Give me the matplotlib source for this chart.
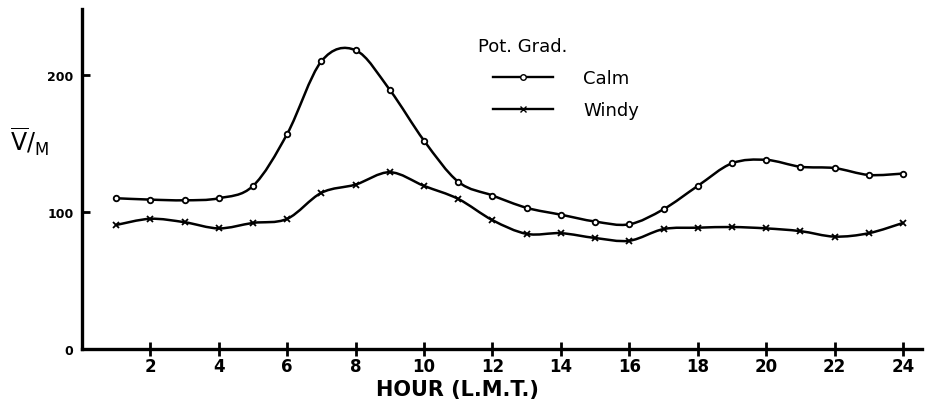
import numpy as np
import matplotlib.pyplot as plt
from matplotlib.path import Path
from matplotlib.patches import PathPatch
from matplotlib.lines import Line2D

# Hourly potential gradient (V/m)
hours = np.arange(1, 25)
calm = [110, 109, 108.5, 110, 119, 157, 210, 218, 189, 152, 122, 112,
        103, 98, 93, 91, 102, 119, 135.5, 138, 133, 132, 127, 128]
windy = [90.5, 95, 92.5, 88, 92, 95, 114, 120, 129, 119, 109.5, 94,
         84, 84.5, 81, 79, 87.5, 88.5, 89, 88, 86, 82, 84.5, 92]

x_ticks = list(range(2, 25, 2))
y_ticks = [0, 100, 200]


def smooth_path(x, y):
    """Catmull-Rom curve through the points, as cubic bezier segments."""
    pts = np.column_stack([x, y]).astype(float)
    ext = np.vstack([pts[0], pts, pts[-1]])
    verts = [pts[0]]
    codes = [Path.MOVETO]
    for i in range(1, len(ext) - 2):
        p0, p1, p2, p3 = ext[i - 1], ext[i], ext[i + 1], ext[i + 2]
        verts += [p1 + (p2 - p0) / 6, p2 - (p3 - p1) / 6, p2]
        codes += [Path.CURVE4] * 3
    return Path(verts, codes)


fig = plt.figure(figsize=(9.25, 4.06), dpi=100)
ax = fig.add_axes([0.0886, 0.138, 0.908, 0.837])

for vals, marker, ms in [(calm, 'o', 4), (windy, 'x', 5)]:
    ax.add_patch(PathPatch(smooth_path(hours, vals), facecolor='none',
                           edgecolor='black', lw=1.8))
    ax.plot(hours, vals, linestyle='none', marker=marker, ms=ms,
            mec='black', mfc='white', mew=1.3)

ax.set_xlim(0, 24.55)
ax.set_ylim(0, 248)
ax.set_xticks(x_ticks)
ax.set_yticks(y_ticks)
ax.tick_params(axis='x', direction='inout', length=10, width=2, labelsize=12, pad=1)
ax.tick_params(axis='y', direction='in', length=6, width=2, labelsize=9, pad=6)
for lab in ax.get_xticklabels() + ax.get_yticklabels():
    lab.set_fontweight('bold')

for side in ['top', 'right']:
    ax.spines[side].set_visible(False)
for side in ['left', 'bottom']:
    ax.spines[side].set_linewidth(2.4)

fig.text(0.495, 0.04, 'HOUR (L.M.T.)', fontsize=15, fontweight='bold',
         ha='center', va='center')
fig.text(0.032, 0.65, r'$\overline{\mathrm{V}}$/$_{\mathrm{M}}$', fontsize=17,
         ha='center', va='center')

ax.text(0.471, 0.891, 'Pot. Grad.', transform=ax.transAxes, fontsize=13,
        ha='left', va='center')
handles = [Line2D([], [], color='black', lw=1.7, marker='o', ms=4,
                  mfc='white', mec='black'),
           Line2D([], [], color='black', lw=1.7, marker='x', ms=5,
                  mec='black')]
ax.legend(handles, ['Calm', 'Windy'], loc='upper left',
          bbox_to_anchor=(0.481, 0.845), frameon=False, fontsize=13,
          handlelength=3.3, labelspacing=0.8, handletextpad=1.7,
          borderaxespad=0)

fig.savefig('out.png', dpi=100)
